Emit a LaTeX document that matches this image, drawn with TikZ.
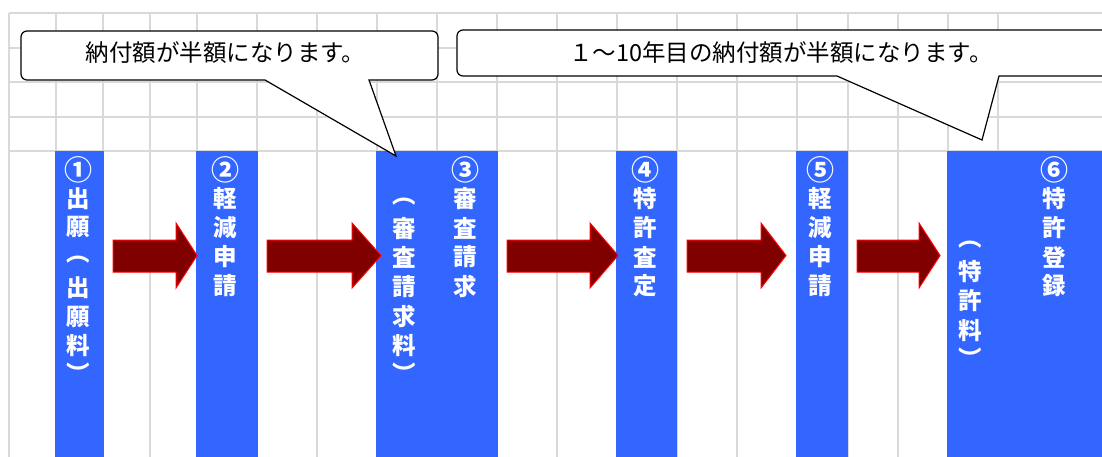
\documentclass[tikz,border=0pt]{standalone}
\usepackage{fontspec}
\newfontfamily\cjk{Noto Sans CJK JP}
\definecolor{gridgray}{HTML}{D9D9D9}
\definecolor{barblue}{HTML}{3366FF}
\definecolor{arrowred}{HTML}{800000}
\begin{document}
\begin{tikzpicture}[x=1pt,y=-1pt,
  gridline/.style={draw=gridgray,line width=1.5pt},
  bar/.style={fill=barblue},
  blockarrow/.style={fill=arrowred,draw=red,line width=1pt,line join=miter},
  callout/.style={draw=black,fill=white,line width=1.2pt,line join=miter},
  vt/.style={text=white,font=\cjk\bfseries\fontsize{23.5}{23.5}\selectfont,inner sep=0pt},
  vp/.style={vt,text height=0.88em,text depth=0.12em},
  vn/.style={text=white,font=\cjk\bfseries\fontsize{28}{28}\selectfont,inner sep=0pt},
  ct/.style={text=black,font=\cjk\fontsize{23.5}{26}\selectfont,inner sep=0pt}]
\useasboundingbox (0,0) rectangle (1102,457);
\clip (0,0) rectangle (1102,457);
\fill[white] (0,0) rectangle (1102,457);
% grid
\foreach \x in {9,56,103,150,197,257,317,377,437,497,557,617,677,737,797,848,898,948,998}
  \draw[gridline] (\x,13) -- (\x,457);
\foreach \y in {13,48,82,117,151}
  \draw[gridline] (9,\y) -- (1102,\y);
% bars
\fill[bar] (55,151) rectangle (104,457);
\fill[bar] (196,151) rectangle (258,457);
\fill[bar] (376,151) rectangle (498,457);
\fill[bar] (616,151) rectangle (677,457);
\fill[bar] (796,151) rectangle (848,457);
\fill[bar] (947,151) rectangle (1102,457);
% block arrows
\foreach \a/\b/\c in {113/176/197,267/352/381,507/590/618,687/761/786,857/919/940}
  \draw[blockarrow] (\a,240) -- (\b,240) -- (\b,223) -- (\c,255.5) -- (\b,288) -- (\b,272) -- (\a,272) -- cycle;
% callouts
\draw[callout] (369,80) -- (400,80) [rounded corners=6] -- (438,80) -- (438,31) -- (21,31) -- (21,80) -- (200,80) [sharp corners] -- (265,80) -- (396,156) -- cycle;
\draw[callout] (999,76) -- (1010,76) [rounded corners=6] -- (1112,76) -- (1112,30) -- (457,30) -- (457,76) -- (780,76) [sharp corners] -- (837,76) -- (982,140) -- cycle;
\node[ct] (c1) at (225.5,53) {納付額が半額になります。};
\node[ct] (c2) at (781,53) {１～10年目の納付額が半額になります。};
% step numbers
\node[vn] (n1) at (78.5,170) {①};
\node[vn] (n2) at (225,170) {②};
\node[vn] (n3) at (465,170) {③};
\node[vn] (n4) at (645,170) {④};
\node[vn] (n5) at (820,170) {⑤};
\node[vn] (n6) at (1054,170) {⑥};
% vertical texts
\foreach \c/\y [count=\i] in {出/199,願/227.5,出/287.3,願/316.7,料/345.7}
  \node[vt] (a\i) at (78.5,\y) {\c};
\node[vp] (ap1) at (78.5,258) {︵};
\node[vp] (ap2) at (78.5,379) {︶};
\foreach \c/\y [count=\i] in {軽/199,減/228,申/257,請/286}
  \node[vt] (b\i) at (225,\y) {\c};
\foreach \c/\y [count=\i] in {審/199,査/228,請/257,求/286}
  \node[vt] (c\i) at (465,\y) {\c};
\foreach \c/\y [count=\i] in {審/229,査/257,請/286.7,求/316.7,料/345.7}
  \node[vt] (d\i) at (404.7,\y) {\c};
\node[vp] (dp1) at (404.7,200) {︵};
\node[vp] (dp2) at (404.7,379) {︶};
\foreach \c/\y [count=\i] in {特/199,許/228,査/257,定/286}
  \node[vt] (e\i) at (645,\y) {\c};
\foreach \c/\y [count=\i] in {軽/199,減/228,申/257,請/286}
  \node[vt] (f\i) at (820,\y) {\c};
\foreach \c/\y [count=\i] in {特/199,許/228,登/257,録/286}
  \node[vt] (g\i) at (1054,\y) {\c};
\foreach \c/\y [count=\i] in {特/271.7,許/300.7,料/330.7}
  \node[vt] (h\i) at (970.7,\y) {\c};
\node[vp] (hp1) at (970.7,242.5) {︵};
\node[vp] (hp2) at (970.7,364) {︶};
\end{tikzpicture}
\end{document}
